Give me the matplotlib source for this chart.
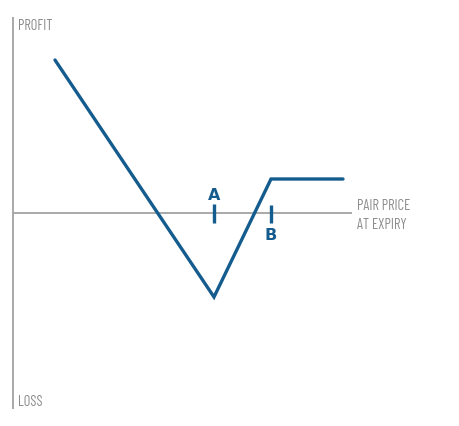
import matplotlib.pyplot as plt

# payoff profile: price (x) vs profit (y), zero line at profit 0
price = [55, 214, 271, 343]
profit = [153, -84, 34, 34]
strike_a = 214
strike_b = 271

BLUE = "#155c8e"
GREY = "#a3a3a3"
TXT = "#8c8c8c"
font = ["Barlow Condensed", "DejaVu Sans"]

fig = plt.figure(figsize=(4.6, 4.27), dpi=100)
ax = fig.add_axes([0, 0, 1, 1])
ax.set_xlim(0, 460)
ax.set_ylim(-213, 214)
ax.axis("off")

# axes lines
ax.plot([13, 13], [-196, 196], color=GREY, lw=1.3, solid_capstyle="butt")
ax.plot([13, 352], [0, 0], color=GREY, lw=1.3, solid_capstyle="butt")

ax.plot(price, profit, color=BLUE, lw=2.4, solid_joinstyle="miter", solid_capstyle="round")

# strike marks
ax.plot([strike_a, strike_a], [-10, 9], color=BLUE, lw=2.4, solid_capstyle="butt")
ax.plot([strike_b, strike_b], [-10, 8], color=BLUE, lw=2.4, solid_capstyle="butt")
ax.text(strike_a, 18, "A", color=BLUE, fontsize=11.5, fontweight="bold",
        ha="center", va="center", family=["DejaVu Sans"])
ax.text(strike_b, -22, "B", color=BLUE, fontsize=11.5, fontweight="bold",
        ha="center", va="center", family=["DejaVu Sans"])

ax.text(18, 188, "PROFIT", color=TXT, fontsize=10.5, family=font, ha="left", va="center")
ax.text(18, -188, "LOSS", color=TXT, fontsize=10.5, family=font, ha="left", va="center")
ax.text(357, 8, "PAIR PRICE", color=TXT, fontsize=10.5, family=font, ha="left", va="center")
ax.text(357, -11, "AT EXPIRY", color=TXT, fontsize=10.5, family=font, ha="left", va="center")

fig.savefig("out.png", dpi=100)
